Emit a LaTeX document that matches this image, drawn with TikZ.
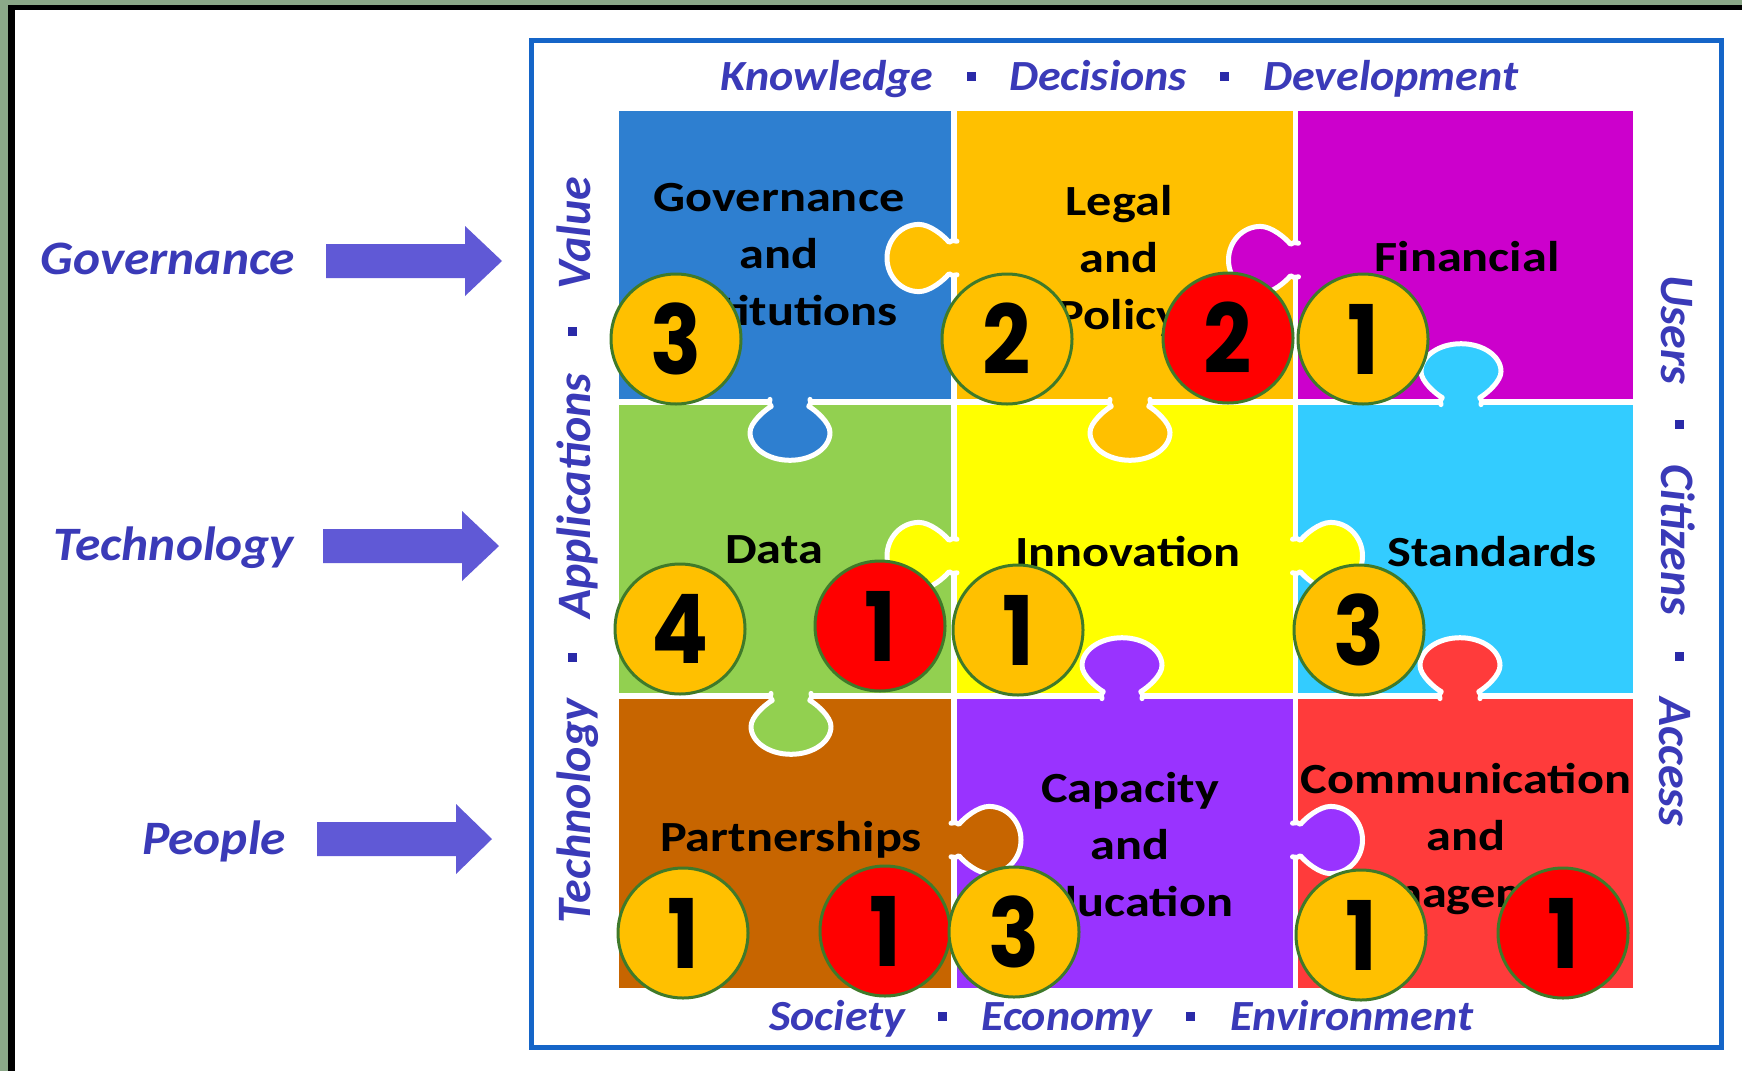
\documentclass[tikz,border=0pt]{standalone}
\usepackage{fontspec}
\setmainfont{Carlito}
\newfontfamily\tilefont[FakeStretch=1.17]{Carlito}
\newfontfamily\wideital[FakeStretch=1.07]{Carlito}
\newfontfamily\digitfont[FakeStretch=0.88]{Poppins}
\definecolor{cgov}{HTML}{2E7FD0}
\definecolor{cleg}{HTML}{FFC000}
\definecolor{cfin}{HTML}{CC00CC}
\definecolor{cdat}{HTML}{92D050}
\definecolor{cinn}{HTML}{FFFF00}
\definecolor{csta}{HTML}{33CCFF}
\definecolor{cpar}{HTML}{C76500}
\definecolor{ccap}{HTML}{9933FF}
\definecolor{ccom}{HTML}{FF3B3B}
\definecolor{cink}{HTML}{3A3AB8}
\definecolor{cdot}{HTML}{2A2AA8}
\definecolor{carr}{HTML}{6059D6}
\definecolor{cframe}{HTML}{1565C8}
\definecolor{cedge}{HTML}{8BA888}
\definecolor{cring}{HTML}{3F7A2A}
\tikzset{
  tile/.style={rectangle,draw=white,line width=5.5pt,inner sep=0pt,outer sep=0pt},
  tiletext/.style={font=\fontsize{43}{57}\selectfont\tilefont\bfseries,align=center,text=black,inner sep=0pt},
  hortext/.style={font=\fontsize{43}{43}\selectfont\wideital\bfseries\itshape,text=cink,inner sep=0pt,anchor=base},
  lefttext/.style={font=\fontsize{48}{48}\selectfont\wideital\bfseries\itshape,text=cink,inner sep=0pt,anchor=base},
  vertext/.style={font=\fontsize{48}{48}\selectfont\bfseries\itshape,text=cink,inner sep=0pt,anchor=base},
  sep/.style={rectangle,fill=cdot,minimum size=9pt,inner sep=0pt},
  badge/.style={circle,minimum size=130pt,inner sep=0pt,draw=cring,line width=3pt,font=\fontsize{96}{96}\selectfont\digitfont\bfseries,text=black},
  amber/.style={badge,fill=cleg},
  alarm/.style={badge,fill=red},
}
\newcommand{\dg}[1]{\raisebox{-2.5pt}{#1}}
% base x, base y, rotation, colour, length scale, width scale
\newcommand{\jigtab}[6]{%
  \begin{scope}[shift={(#1,#2)},rotate=#3,xscale=#5,yscale=#6]
    \fill[#4]
      (-8,-16) -- (-3,-16) .. controls (0,-17) and (3,-17) .. (5,-15)
      .. controls (10,-21) and (24,-32) .. (35,-32)
      .. controls (52.7,-32) and (67,-17.7) .. (67,0)
      .. controls (67,17.7) and (52.7,32) .. (35,32)
      .. controls (24,32) and (10,21) .. (5,15)
      .. controls (3,17) and (0,17) .. (-3,16) -- (-8,16) -- cycle;
    \draw[white,line width=5pt,line join=round,line cap=round]
      (-3,-16) .. controls (0,-17) and (3,-17) .. (5,-15)
      .. controls (10,-21) and (24,-32) .. (35,-32)
      .. controls (52.7,-32) and (67,-17.7) .. (67,0)
      .. controls (67,17.7) and (52.7,32) .. (35,32)
      .. controls (24,32) and (10,21) .. (5,15)
      .. controls (3,17) and (0,17) .. (-3,16);
  \end{scope}}
% shaft start x, head base x, tip x, centre y, name
\newcommand{\blockarrow}[5]{%
  \coordinate (#5) at (#3,#4);
  \fill[carr] (#1,#4-17) -- (#2,#4-17) -- (#2,#4-35) -- (#5) -- (#2,#4+35) -- (#2,#4+17) -- (#1,#4+17) -- cycle;}
\begin{document}
\begin{tikzpicture}[x=1pt,y=-1pt]
\useasboundingbox (0,0) rectangle (1742,1071);
\fill[white] (0,0) rectangle (1742,1071);
\fill[cedge] (0,0) rectangle (1742,5);
\fill[cedge] (0,0) rectangle (8,1071);
\fill[black] (8,5) rectangle (1742,10);
\fill[black] (8,5) rectangle (15,1071);
% outer frame
\draw[cframe,line width=5pt] (531,40) rectangle (1721,1047);
% tiles
\node[tile,fill=cgov,minimum width=338pt,minimum height=294pt] (gov) at (785,255) {};
\node[tile,fill=cleg,minimum width=341.5pt,minimum height=294pt] (leg) at (1124.75,255) {};
\node[tile,fill=cfin,minimum width=340pt,minimum height=294pt] (fin) at (1465.5,255) {};
\node[tile,fill=cdat,minimum width=338pt,minimum height=294pt] (dat) at (785,549) {};
\node[tile,fill=cinn,minimum width=341.5pt,minimum height=294pt] (inn) at (1124.75,549) {};
\node[tile,fill=csta,minimum width=340pt,minimum height=294pt] (sta) at (1465.5,549) {};
\node[tile,fill=cpar,minimum width=338pt,minimum height=295pt] (par) at (785,843.5) {};
\node[tile,fill=ccap,minimum width=341.5pt,minimum height=295pt] (cap) at (1124.75,843.5) {};
\node[tile,fill=ccom,minimum width=340pt,minimum height=295pt] (com) at (1465.5,843.5) {};
% tabs
\jigtab{954}{258}{180}{cleg}{1}{1.05}
\jigtab{1295.5}{260}{180}{cfin}{1}{1.05}
\jigtab{790}{402}{270}{cgov}{0.87}{1.25}
\jigtab{1130}{402}{270}{cleg}{0.87}{1.25}
\jigtab{1461}{402}{90}{csta}{0.87}{1.25}
\jigtab{954}{556}{180}{cinn}{1}{1.05}
\jigtab{1295.5}{556}{0}{cinn}{1}{1.05}
\jigtab{1122}{696}{90}{ccap}{0.87}{1.25}
\jigtab{1460}{696}{90}{ccom}{0.87}{1.25}
\jigtab{791}{696}{270}{cdat}{0.87}{1.25}
\jigtab{954}{840}{0}{cpar}{1}{1.05}
\jigtab{1295.5}{840}{0}{ccap}{1}{1.05}
% tile text
\node[tiletext] (tgov) at (779,255) {Governance\\and\\Institutions};
\node[tiletext] (tleg) at (1119,261) {Legal\\and\\Policy};
\node[tiletext] (tfin) at (1467,257) {Financial};
\node[tiletext] (tdat) at (774,550) {Data};
\node[tiletext] (tinn) at (1128,552) {Innovation};
\node[tiletext] (tsta) at (1492,552) {Standards};
\node[tiletext] (tpar) at (791,840) {Partnerships};
\node[tiletext] (tcap) at (1130,845) {Capacity\\and\\Education};
\node[tiletext] (tcom) at (1466,839) {Communication\\and\\Management};
% side text
\node[hortext] (k1) at (827,90) {Knowledge};
\node[sep] (k2) at (971,76) {};
\node[hortext] (k3) at (1098,90) {Decisions};
\node[sep] (k4) at (1224,76) {};
\node[hortext] (k5) at (1391,90) {Development};
\node[hortext] (s1) at (837,1030) {Society};
\node[sep] (s2) at (942,1016) {};
\node[hortext] (s3) at (1067,1030) {Economy};
\node[sep] (s4) at (1190,1016) {};
\node[hortext] (s5) at (1352,1030) {Environment};
\node[vertext,rotate=90] (l1) at (590,233) {Value};
\node[sep] (l2) at (572,331) {};
\node[vertext,rotate=90] (l3) at (590,496) {Applications};
\node[sep] (l4) at (572,657) {};
\node[vertext,rotate=90] (l5) at (590,811) {Technology};
\node[vertext,rotate=-90] (r1) at (1661,330) {Users};
\node[sep] (r2) at (1679,424) {};
\node[vertext,rotate=-90] (r3) at (1661,540) {Citizens};
\node[sep] (r4) at (1679,656) {};
\node[vertext,rotate=-90] (r5) at (1659,762) {Access};
% left labels and arrows
\node[lefttext] (a1) at (168,274) {Governance};
\node[lefttext] (a2) at (174,560) {Technology};
\node[lefttext] (a3) at (214,854) {People};
\blockarrow{326}{465}{502}{261}{tipa}
\blockarrow{323}{462}{499}{546}{tipb}
\blockarrow{317}{456}{492}{839}{tipc}
% badges
\node[amber] (b1) at (676,339) {\dg{3}};
\node[amber] (b2) at (1007,339) {\dg{2}};
\node[alarm] (b3) at (1228,338) {\dg{2}};
\node[amber] (b4) at (1363,339) {\dg{1}};
\node[amber] (b5) at (680,629) {\dg{4}};
\node[alarm] (b6) at (880,626) {\dg{1}};
\node[amber] (b7) at (1018,630) {\dg{1}};
\node[amber] (b8) at (1359,630) {\dg{3}};
\node[amber] (b9) at (683,933) {\dg{1}};
\node[alarm] (b10) at (885,931) {\dg{1}};
\node[amber] (b11) at (1014,932) {\dg{3}};
\node[amber] (b12) at (1361,935) {\dg{1}};
\node[alarm] (b13) at (1563,933) {\dg{1}};
\end{tikzpicture}
\end{document}
